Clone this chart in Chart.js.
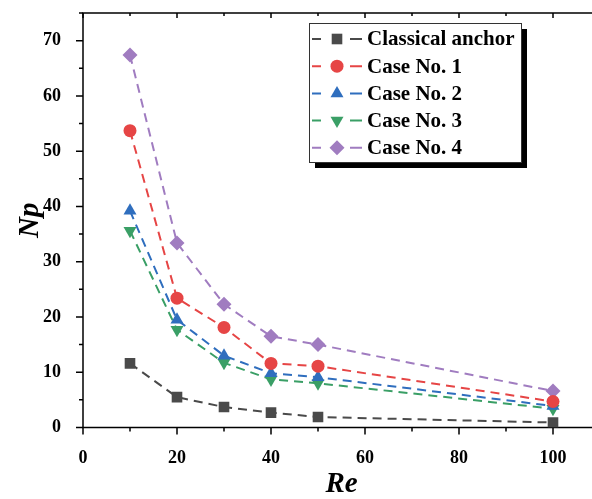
<!DOCTYPE html>
<html>
<head>
<meta charset="utf-8">
<script src="https://cdn.jsdelivr.net/npm/chart.js@4/dist/chart.umd.min.js"></script>
<style>
  body { margin: 0; overflow: hidden; background: #fff; }
  #wrap { width: 592px; height: 499px; overflow: hidden; }
</style>
</head>
<body>
<div id="wrap"><canvas id="npChart" width="610" height="499"></canvas></div>
<script>
const re = [10, 20, 30, 40, 50, 100];
const classical = [11.6, 5.5, 3.7, 2.7, 1.9, 0.9];
const case1 = [53.7, 23.4, 18.1, 11.6, 11.1, 4.7];
const case2 = [39.2, 19.5, 13.0, 9.8, 9.1, 3.9];
const case3 = [35.6, 17.7, 11.7, 8.7, 8.0, 3.4];
const case4 = [67.4, 33.4, 22.3, 16.5, 15.0, 6.6];
const xTicks = [0, 20, 40, 60, 80, 100];
const yTicks = [0, 10, 20, 30, 40, 50, 60, 70];

const seriesNames = ['Classical anchor', 'Case No. 1', 'Case No. 2', 'Case No. 3', 'Case No. 4'];
const seriesColors = ['#4a4a4a', '#e64545', '#2f6ebe', '#3a9f66', '#a07cc0'];
const seriesStyles = [
  { pointStyle: 'rect', radius: 7.5, rotation: 0 },
  { pointStyle: 'circle', radius: 6.5, rotation: 0 },
  { pointStyle: 'triangle', radius: 7.5, rotation: 0 },
  { pointStyle: 'triangle', radius: 7.5, rotation: 180 },
  { pointStyle: 'rectRot', radius: 7.5, rotation: 0 }
];
const seriesValues = [classical, case1, case2, case3, case4];

const serif = "'Liberation Serif', 'Times New Roman', serif";

const datasets = seriesValues.map((vals, i) => ({
  label: seriesNames[i],
  data: re.map((x, j) => ({ x: x, y: vals[j] })),
  borderColor: seriesColors[i],
  backgroundColor: seriesColors[i],
  borderWidth: 2,
  borderDash: [9, 6],
  pointStyle: seriesStyles[i].pointStyle,
  pointRadius: seriesStyles[i].radius,
  pointRotation: seriesStyles[i].rotation,
  pointBorderWidth: 0,
  tension: 0
}));

// frame and tick marks, drawn under the data
const framePlugin = {
  id: 'frame',
  beforeDatasetsDraw(chart) {
    const { ctx, chartArea: a, scales } = chart;
    ctx.save();
    ctx.strokeStyle = '#000';
    ctx.lineWidth = 1.5;
    ctx.strokeRect(a.left, a.top, a.right - a.left, a.bottom - a.top);
    ctx.beginPath();
    for (let v = 0; v <= 110; v += 10) {
      const px = scales.x.getPixelForValue(v);
      const major = v % 20 === 0;
      ctx.moveTo(px, a.bottom);
      ctx.lineTo(px, a.bottom + (major ? 7 : 4));
      ctx.moveTo(px, a.top);
      ctx.lineTo(px, a.top + (major ? 5 : 3));
    }
    for (let v = 0; v <= 75; v += 5) {
      const py = scales.y.getPixelForValue(v);
      const major = v % 10 === 0;
      ctx.moveTo(a.left, py);
      ctx.lineTo(a.left - (major ? 7 : 4), py);
    }
    ctx.stroke();
    ctx.restore();
  }
};

// boxed legend with drop shadow inside the plot
const legendPlugin = {
  id: 'boxLegend',
  afterDraw(chart) {
    const ctx = chart.ctx;
    const bx = 309, by = 23, bw = 212, bh = 139;
    ctx.save();
    ctx.fillStyle = '#000';
    ctx.fillRect(bx + 6, by + 6, bw, bh);
    ctx.fillStyle = '#fff';
    ctx.fillRect(bx, by, bw, bh);
    ctx.strokeStyle = '#333';
    ctx.lineWidth = 1;
    ctx.strokeRect(bx + 0.5, by + 0.5, bw, bh);
    ctx.font = 'bold 21px ' + serif;
    ctx.textBaseline = 'middle';
    seriesNames.forEach((name, i) => {
      const y = 39 + i * 27.2;
      ctx.strokeStyle = seriesColors[i];
      ctx.fillStyle = seriesColors[i];
      ctx.lineWidth = 2;
      ctx.setLineDash([]);
      ctx.beginPath();
      ctx.moveTo(312, y); ctx.lineTo(321, y);
      ctx.moveTo(350, y); ctx.lineTo(362, y);
      ctx.stroke();
      Chart.helpers.drawPoint(ctx, {
        pointStyle: seriesStyles[i].pointStyle,
        radius: seriesStyles[i].radius,
        rotation: seriesStyles[i].rotation,
        borderWidth: 0
      }, 337, y);
      ctx.fillStyle = '#000';
      ctx.fillText(name, 367, y + 1);
    });
    ctx.restore();
  }
};

const ctx = document.getElementById('npChart').getContext('2d');
const npChart = new Chart(ctx, {
  type: 'line',
  data: { datasets: datasets },
  plugins: [framePlugin, legendPlugin],
  options: {
    responsive: false,
    animation: false,
    layout: { padding: { top: 13, right: 10, left: 0, bottom: 0 } },
    plugins: {
      legend: { display: false },
      tooltip: { enabled: false }
    },
    scales: {
      x: {
        type: 'linear',
        min: 0,
        max: 110,
        grid: { display: false },
        border: { display: false },
        afterBuildTicks: s => { s.ticks = xTicks.map(v => ({ value: v })); },
        afterFit: s => { s.height = 71.5; s.paddingLeft = 0; s.paddingRight = 0; },
        ticks: {
          color: '#000',
          padding: 12,
          maxRotation: 0,
          font: { family: serif, size: 18, weight: 'bold' }
        },
        title: {
          display: true,
          text: 'Re',
          color: '#000',
          padding: { top: 0, bottom: 0 },
          font: { family: serif, size: 29, weight: 'bold', style: 'italic', lineHeight: 1 }
        }
      },
      y: {
        type: 'linear',
        min: 0,
        max: 75,
        grid: { display: false },
        border: { display: false },
        afterBuildTicks: s => { s.ticks = yTicks.map(v => ({ value: v })); },
        afterFit: s => { s.width = 83; s.paddingTop = 0; s.paddingBottom = 0; },
        ticks: {
          color: '#000',
          padding: 14,
          font: { family: serif, size: 18, weight: 'bold' }
        },
        title: {
          display: true,
          text: 'Np',
          color: '#000',
          padding: { top: 13, bottom: 0 },
          font: { family: serif, size: 29, weight: 'bold', style: 'italic', lineHeight: 1.2 }
        }
      }
    }
  }
});
</script>
</body>
</html>
